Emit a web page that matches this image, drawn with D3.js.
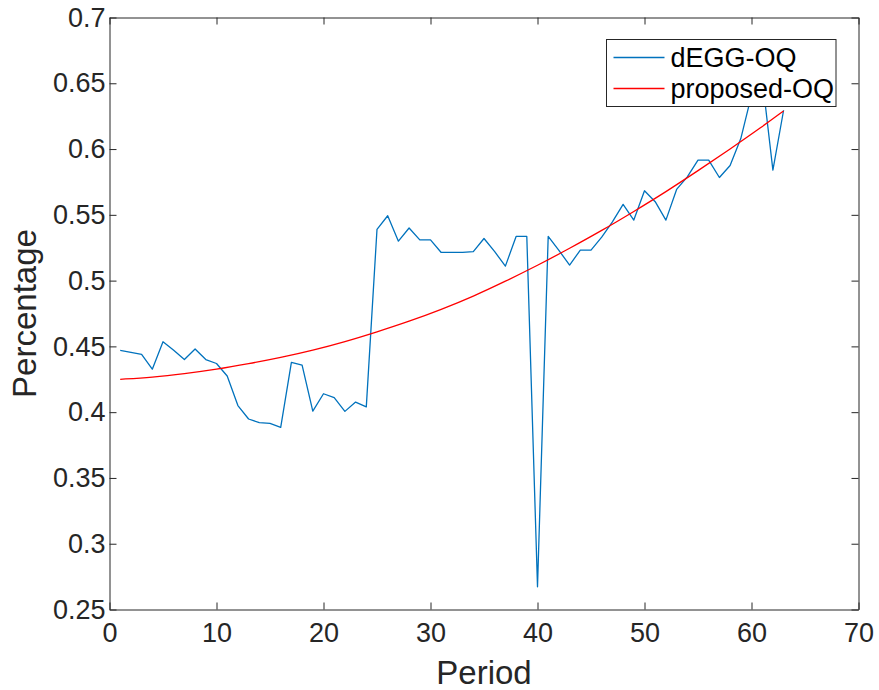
<!DOCTYPE html>
<html>
<head>
<meta charset="utf-8">
<script src="https://cdn.jsdelivr.net/npm/d3@7"></script>
<style>
  body { margin: 0; background: #fff; }
  svg text { font-family: "Liberation Sans", Arial, sans-serif; fill: #262626; }
</style>
</head>
<body>
<div id="chart"></div>
<script>
// dEGG-OQ, one value per period 1..63
var degg = [
  0.447, 0.4455, 0.444, 0.4327, 0.4535, 0.447, 0.440, 0.448, 0.440, 0.437,
  0.4275, 0.405, 0.3948, 0.392, 0.3915, 0.3884, 0.4378, 0.4358, 0.4008, 0.414,
  0.411, 0.4006, 0.4077, 0.404, 0.539, 0.5493, 0.530, 0.540, 0.531, 0.531,
  0.5214, 0.5214, 0.5214, 0.522, 0.532, 0.522, 0.511, 0.5336, 0.5336, 0.2673,
  0.5336, 0.523, 0.5118, 0.5232, 0.5232, 0.533, 0.5447, 0.558, 0.546, 0.5683,
  0.560, 0.546, 0.5693, 0.5789, 0.5916, 0.5916, 0.5784, 0.5875, 0.608, 0.641,
  0.654, 0.584, 0.6295
];
// proposed-OQ curve, read at some periods
var propPeriods = [1, 4, 7, 10, 13, 16, 19, 22, 25, 28, 31, 34, 37, 40, 43, 46, 49, 52, 55, 58, 61, 63];
var propValues = [0.425, 0.4265, 0.4292, 0.4325, 0.4368, 0.4415, 0.447, 0.4535, 0.461, 0.469, 0.478,
  0.488, 0.4995, 0.5115, 0.5245, 0.538, 0.5525, 0.5675, 0.5835, 0.6, 0.617, 0.629];

var xTicks = [0, 10, 20, 30, 40, 50, 60, 70];
var yTicks = [0.25, 0.3, 0.35, 0.4, 0.45, 0.5, 0.55, 0.6, 0.65, 0.7];
var seriesNames = ["dEGG-OQ", "proposed-OQ"];
var seriesColors = ["#0072BD", "#FF0000"];

var width = 879, height = 690;
var margin = { left: 109.5, right: 879 - 858.5, top: 17.5, bottom: 690 - 609.5 };
var axisColor = "#262626";
var tickLen = 7;
var fontSize = 27;

var svg = d3.select("#chart").append("svg")
  .attr("width", width)
  .attr("height", height);

var x = d3.scaleLinear().domain([0, 70]).range([margin.left, width - margin.right]);
var y = d3.scaleLinear().domain([0.25, 0.7]).range([height - margin.bottom, margin.top]);

var plotW = width - margin.left - margin.right;
var plotH = height - margin.top - margin.bottom;

// clip for lines
svg.append("clipPath").attr("id", "clip")
  .append("rect").attr("x", margin.left).attr("y", margin.top)
  .attr("width", plotW).attr("height", plotH);

var lineG = svg.append("g").attr("clip-path", "url(#clip)");

var line = d3.line()
  .x(function (d) { return x(d[0]); })
  .y(function (d) { return y(d[1]); });

lineG.append("path")
  .datum(degg.map(function (v, i) { return [i + 1, v]; }))
  .attr("fill", "none")
  .attr("stroke", seriesColors[0])
  .attr("stroke-width", 1.3)
  .attr("stroke-linejoin", "round")
  .attr("d", line);

lineG.append("path")
  .datum(propPeriods.map(function (p, i) { return [p, propValues[i]]; }))
  .attr("fill", "none")
  .attr("stroke", seriesColors[1])
  .attr("stroke-width", 1.3)
  .attr("d", line.curve(d3.curveBasis));

// axes (box with ticks inside on all sides)
function styleAxis(g) {
  g.select(".domain").attr("stroke", axisColor).attr("stroke-width", 1);
  g.selectAll(".tick line").attr("stroke", axisColor);
  g.selectAll(".tick text").attr("font-size", fontSize).attr("fill", axisColor);
}

svg.append("g")
  .attr("transform", "translate(0," + (height - margin.bottom) + ")")
  .call(d3.axisBottom(x).tickValues(xTicks).tickSize(-tickLen).tickSizeOuter(0).tickPadding(13))
  .call(styleAxis)
  .selectAll(".tick text").attr("dy", "0.71em");

svg.append("g")
  .attr("transform", "translate(0," + margin.top + ")")
  .call(d3.axisTop(x).tickValues(xTicks).tickSize(-tickLen).tickSizeOuter(0).tickFormat(""))
  .call(styleAxis);

svg.append("g")
  .attr("transform", "translate(" + margin.left + ",0)")
  .call(d3.axisLeft(y).tickValues(yTicks).tickSize(-tickLen).tickSizeOuter(0).tickPadding(4)
    .tickFormat(function (d) { return String(+d.toFixed(2)); }))
  .call(styleAxis);

svg.append("g")
  .attr("transform", "translate(" + (width - margin.right) + ",0)")
  .call(d3.axisRight(y).tickValues(yTicks).tickSize(-tickLen).tickSizeOuter(0).tickFormat(""))
  .call(styleAxis);

// axis labels
svg.append("text")
  .attr("x", x(35))
  .attr("y", 684)
  .attr("text-anchor", "middle")
  .attr("font-size", 33)
  .text("Period");

svg.append("text")
  .attr("transform", "translate(36," + y(0.475) + ") rotate(-90)")
  .attr("text-anchor", "middle")
  .attr("font-size", 33)
  .text("Percentage");

// legend
var legend = svg.append("g").attr("transform", "translate(606.5,39.5)");
legend.append("rect")
  .attr("width", 229.5).attr("height", 67)
  .attr("fill", "#fff").attr("stroke", axisColor).attr("stroke-width", 1);

var keys = legend.selectAll(".key")
  .data(seriesNames)
  .enter().append("g")
  .attr("class", "key")
  .attr("transform", function (d, i) { return "translate(0," + (18 + i * 31) + ")"; });

keys.append("line")
  .attr("x1", 7).attr("x2", 58)
  .attr("stroke", function (d, i) { return seriesColors[i]; })
  .attr("stroke-width", 1.3);

keys.append("text")
  .attr("x", 64)
  .attr("dy", "0.35em")
  .attr("font-size", 27)
  .style("fill", "#000")
  .text(function (d) { return d; });
</script>
</body>
</html>
